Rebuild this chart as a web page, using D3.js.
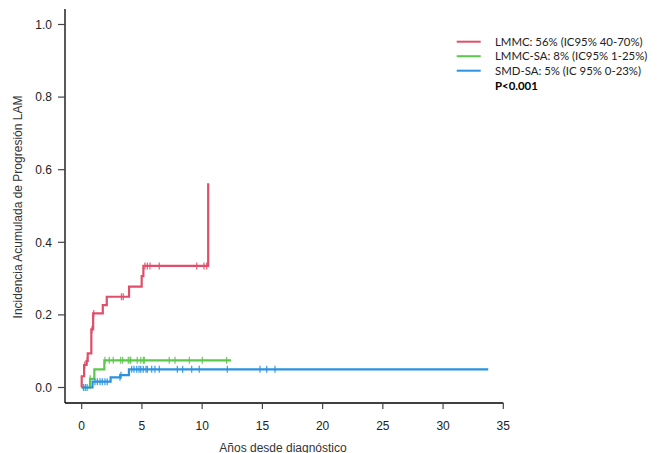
<!DOCTYPE html>
<html><head><meta charset="utf-8">
<script src="https://cdn.jsdelivr.net/npm/d3@7"></script>
<style>body{margin:0;background:#fff}svg{display:block}</style>
</head><body><svg id="c" width="662" height="453"></svg>
<script>
// Step curves: [time, cumulative incidence]
const lmmcSteps = [[0,0],[0,0.031],[0.2,0.062],[0.4,0.073],[0.5,0.094],[0.8,0.16],[0.95,0.204],[1.75,0.227],[2.08,0.25],[3.93,0.278],[4.98,0.307],[5.12,0.335],[10.5,0.335],[10.5,0.5625]];
const lmmcCensor = [[0.25,0.062],[0.45,0.073],[0.85,0.16],[1.0,0.204],[3.3,0.25],[3.45,0.25],[5.25,0.335],[5.45,0.335],[5.67,0.335],[6.44,0.335],[9.55,0.335],[10.15,0.335],[10.38,0.335]];
const lmmcsaSteps = [[0,0],[0.69,0.024],[1.05,0.05],[1.88,0.075],[12.4,0.075]];
const lmmcsaCensor = [[0.7,0.024],[1.93,0.075],[2.29,0.075],[2.62,0.075],[3.24,0.075],[3.4,0.075],[3.87,0.075],[4.01,0.075],[4.07,0.075],[4.61,0.075],[4.9,0.075],[5.12,0.075],[5.2,0.075],[7.27,0.075],[7.75,0.075],[8.94,0.075],[10.01,0.075],[12.03,0.075]];
const smdsaSteps = [[0,0],[0.9,0.016],[2.4,0.028],[3.2,0.034],[3.92,0.05],[33.75,0.05]];
const smdsaCensor = [[0.15,0],[0.3,0],[0.45,0],[1.1,0.016],[1.3,0.016],[1.52,0.016],[1.71,0.016],[1.93,0.016],[2.12,0.016],[3.18,0.028],[3.26,0.034],[4.15,0.05],[4.34,0.05],[4.57,0.05],[4.76,0.05],[4.9,0.05],[5.11,0.05],[5.34,0.05],[5.45,0.05],[5.81,0.05],[6.08,0.05],[6.44,0.05],[7.94,0.05],[8.38,0.05],[9.13,0.05],[9.76,0.05],[12.09,0.05],[14.8,0.05],[15.36,0.05],[16.05,0.05]];
const seriesNames = ["LMMC: 56% (IC95% 40-70%)","LMMC-SA: 8% (IC95% 1-25%)","SMD-SA: 5% (IC 95% 0-23%)"];
const seriesColors = ["#df4f69","#5cc84b","#2b92df"];
const xTicks = [0,5,10,15,20,25,30,35];
const yTicks = [0,0.2,0.4,0.6,0.8,1.0];
const pText = "P<0.001";
const xLabel = "Años desde diagnóstico";
const yLabel = "Incidencia Acumulada de Progresión LAM";

const svg = d3.select("#c");
const x = d3.scaleLinear().domain([0,35]).range([81.7,503.3]);
const y = d3.scaleLinear().domain([0,1]).range([387.5,24.5]);
const axisCol = "#000";
const ff = "Liberation Sans, Arial, sans-serif";

// axes (L-shaped)
svg.append("line").attr("x1",65).attr("x2",65).attr("y1",9).attr("y2",403).attr("stroke",axisCol).attr("stroke-width",1.3);
svg.append("line").attr("x1",65).attr("x2",x(35)).attr("y1",403).attr("y2",403).attr("stroke",axisCol).attr("stroke-width",1.3);
const yg = svg.append("g");
yTicks.forEach(t=>{
  yg.append("line").attr("x1",58).attr("x2",65).attr("y1",y(t)).attr("y2",y(t)).attr("stroke","#444").attr("stroke-width",1.2);
  yg.append("text").attr("x",52).attr("y",y(t)+4.2).attr("text-anchor","end")
    .attr("font-family",ff).attr("font-size",12).attr("fill","#222").text(d3.format(".1f")(t));
});
const xg = svg.append("g");
xTicks.forEach(t=>{
  xg.append("line").attr("x1",x(t)).attr("x2",x(t)).attr("y1",403).attr("y2",409).attr("stroke","#444").attr("stroke-width",1.2);
  xg.append("text").attr("x",x(t)).attr("y",429.5).attr("text-anchor","middle")
    .attr("font-family",ff).attr("font-size",12).attr("fill","#222").text(t);
});
svg.append("text").attr("x",283).attr("y",451.5).attr("text-anchor","middle")
  .attr("font-family",ff).attr("font-size",12).attr("fill","#333").text(xLabel);
svg.append("text").attr("transform","translate(22,207) rotate(-90)").attr("text-anchor","middle")
  .attr("font-family",ff).attr("font-size",12).attr("fill","#333").text(yLabel);

const line = d3.line().x(d=>x(d[0])).y(d=>y(d[1])).curve(d3.curveStepAfter);
const all = [[lmmcsaSteps,lmmcsaCensor,1],[smdsaSteps,smdsaCensor,2],[lmmcSteps,lmmcCensor,0]];
all.forEach(([s,c,i])=>{
  svg.append("path").attr("d",line(s)).attr("fill","none").attr("stroke",seriesColors[i]).attr("stroke-width",2.2);
  svg.append("g").selectAll("line").data(c).join("line")
    .attr("x1",d=>x(d[0])).attr("x2",d=>x(d[0])).attr("y1",d=>y(d[1])-3.5).attr("y2",d=>y(d[1])+3.5)
    .attr("stroke",seriesColors[i]).attr("stroke-width",1.3).attr("opacity",0.85);
});

// legend
const lg = svg.append("g");
seriesNames.forEach((n,i)=>{
  const yy = 41.7 + i*14.5;
  lg.append("line").attr("x1",456.7).attr("x2",480.7).attr("y1",yy).attr("y2",yy).attr("stroke",seriesColors[i]).attr("stroke-width",2);
  lg.append("text").attr("x",495).attr("y",yy+4).attr("font-family","Lato, Open Sans, sans-serif").attr("font-size",11.4).attr("fill","#222").text(n);
});
lg.append("text").attr("x",495).attr("y",41.7+3*14.5+4.5).attr("font-family","Lato, Open Sans, sans-serif").attr("font-weight","bold").attr("font-size",11.4).attr("fill","#000").text(pText);
</script></body></html>
